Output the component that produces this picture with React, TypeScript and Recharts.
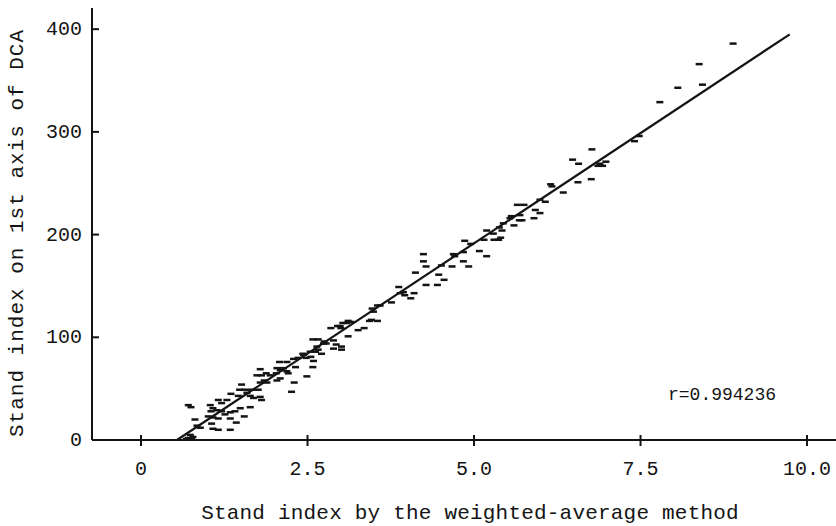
import { ScatterChart, Scatter, XAxis, YAxis, ReferenceLine, Customized } from 'recharts';

// stand index by the weighted-average method (x) vs. stand score on DCA axis 1 (y)
const stdIndexWA = [
  8.89, 8.38, 8.43, 8.06, 7.79, 7.48, 7.41, 6.77,
  6.48, 6.57, 6.89, 6.93, 6.86, 6.98, 6.76, 6.56, 6.15, 6.17, 6.34, 6.07,
  5.99, 5.65, 5.75, 5.92, 5.99, 5.69, 5.56, 5.54, 5.72, 5.68, 5.9, 5.6,
  5.44, 5.38, 5.19, 5.42, 5.29, 5.4, 5.37, 5.3, 5.15, 4.86, 4.95, 5.08,
  5.19, 4.69, 4.84, 4.71,
  4.24, 4.24, 4.84, 4.28, 4.51, 4.67, 4.92, 4.12, 4.47, 4.55, 4.28, 4.45,
  3.87, 3.94, 4.1, 3.96, 3.89, 4.05, 3.76, 3.59, 3.55, 3.47, 3.49, 3.46,
  3.55, 3.43, 3.11, 3.15, 3.09, 3.03, 2.99, 2.95, 2.85, 3.0, 3.26, 3.35,
  3.11, 2.58, 2.66, 2.75, 2.89, 2.78, 2.74, 2.93, 3.01, 2.89, 2.64, 2.66,
  2.62, 2.71, 2.54, 2.44, 2.55, 2.48, 3.01, 2.36, 2.29,
  2.43, 2.59, 2.58, 2.08, 2.19, 2.32, 2.04, 2.09, 2.14, 2.19, 2.21, 1.79,
  1.88, 1.81, 1.74, 1.94, 2.03, 2.09, 2.04, 2.49, 2.3, 1.85, 1.89, 1.79,
  2.26, 1.51, 1.48, 1.56, 1.66, 1.76, 1.35, 1.46, 1.59, 1.64, 1.69, 1.79,
  1.81, 1.29, 1.21, 1.16, 1.04, 1.08, 1.14, 1.05, 1.21, 1.26, 1.34, 1.41,
  1.49, 1.64, 1.01, 1.08, 1.16, 1.34, 1.43, 1.55, 0.71, 0.75, 0.81, 0.84,
  0.89, 1.08, 1.16, 1.34, 1.06, 0.74, 0.78, 0.71, 0.76, 0.68,
];
const stdIndexDCA = [
  386, 366, 346, 343, 329, 296, 291, 283,
  273, 269, 269, 267, 267, 271, 254, 251, 249, 247, 241, 232,
  234, 229, 229, 224, 221, 219, 218, 216, 214, 214, 216, 209,
  211, 207, 204, 204, 201, 197, 195, 195, 195, 194, 191, 184,
  179, 181, 183, 179,
  181, 174, 174, 169, 170, 169, 169, 163, 161, 156, 151, 151,
  149, 144, 143, 141, 143, 138, 134, 131, 131, 128, 125, 117,
  116, 116, 116, 115, 114, 114, 111, 111, 109, 109, 107, 109,
  101, 98, 98, 96, 97, 94, 94, 93, 91, 89, 91, 88,
  86, 84, 86, 83, 81, 80, 88, 80, 79,
  84, 77, 71, 76, 76, 71, 70, 68, 70, 67, 65, 69,
  65, 63, 63, 63, 65, 60, 58, 62, 56, 58, 56, 56,
  47, 54, 49, 49, 49, 49, 45, 43, 46, 43, 41, 42,
  39, 39, 36, 39, 34, 31, 29, 28, 28, 25, 27, 28,
  31, 32, 23, 22, 21, 21, 17, 23, 34, 32, 20, 14,
  12, 11, 10, 10, 16, 5, 3, 2, 1, 1,
];

const xTicks = [0, 2.5, 5, 7.5, 10];
const xTickLabels = ['0', '2.5', '5.0', '7.5', '10.0'];
const yTicks = [0, 100, 200, 300, 400];

// fitted regression line end points
const fitStart = { x: 0.54, y: 0 };
const fitEnd = { x: 9.74, y: 395 };
const rLabel = 'r=0.994236';

const xTitle = 'Stand index by the weighted-average method';
const yTitle = 'Stand index on 1st axis of DCA';

const points = stdIndexWA.map((x, i) => ({ x, y: stdIndexDCA[i] }));

const INK = '#141414';
const FONT = '"Liberation Mono", "DejaVu Sans Mono", monospace';

const Dash = ({ cx, cy }: any) => (
  <rect x={cx - 3.5} y={cy - 1.2} width={7} height={2.5} fill={INK} />
);

const XTick = ({ x, y, payload }: any) => (
  <g>
    <line x1={x} x2={x} y1={y - 5} y2={y + 6} stroke={INK} strokeWidth={2} />
    <text x={x} y={y + 35} textAnchor="middle" fontFamily={FONT} fontSize={20} fill={INK}>
      {xTickLabels[xTicks.indexOf(payload.value)]}
    </text>
  </g>
);

const YTick = ({ x, y, payload }: any) => (
  <g>
    <line x1={x} x2={x + 7} y1={y} y2={y} stroke={INK} strokeWidth={2} />
    <text x={x - 10} y={y + 6} textAnchor="end" fontFamily={FONT} fontSize={20} fill={INK}>
      {payload.value}
    </text>
  </g>
);

const XTitle = ({ viewBox }: any) => (
  <text
    x={viewBox.x + viewBox.width / 2 + 6}
    y={viewBox.y + 79}
    textAnchor="middle"
    fontFamily={FONT}
    fontSize={21}
    letterSpacing={0.2}
    fill={INK}
  >
    {xTitle}
  </text>
);

const YTitle = ({ viewBox }: any) => {
  const cx = 23;
  const cy = viewBox.y + viewBox.height / 2 + 9;
  return (
    <text
      x={cx}
      y={cy}
      transform={`rotate(-90 ${cx} ${cy})`}
      textAnchor="middle"
      fontFamily={FONT}
      fontSize={21}
      letterSpacing={1}
      fill={INK}
    >
      {yTitle}
    </text>
  );
};

const RText = () => (
  <text x={668} y={400} fontFamily={FONT} fontSize={18} fill={INK}>
    {rLabel}
  </text>
);

export default function App() {
  return (
    <div style={{ position: 'absolute', left: 0, top: 0, width: 836, height: 526, background: '#fff' }}>
      <ScatterChart width={836} height={526} margin={{ top: 8, right: 0, bottom: 0, left: 0 }}>
        <XAxis
          type="number"
          dataKey="x"
          domain={[-0.736, 10.435]}
          ticks={xTicks}
          allowDataOverflow
          height={86}
          tickSize={0}
          tickMargin={0}
          tickLine={false}
          tick={<XTick />}
          axisLine={{ stroke: INK, strokeWidth: 2 }}
          label={{ content: <XTitle /> }}
        />
        <YAxis
          type="number"
          dataKey="y"
          domain={[0, 420.6]}
          ticks={yTicks}
          allowDataOverflow
          width={92}
          tickSize={0}
          tickMargin={0}
          tickLine={false}
          tick={<YTick />}
          axisLine={{ stroke: INK, strokeWidth: 2 }}
          label={{ content: <YTitle /> }}
        />
        <Scatter data={points} shape={<Dash />} isAnimationActive={false} />
        <ReferenceLine
          segment={[fitStart, fitEnd]}
          stroke={INK}
          strokeWidth={2.2}
          ifOverflow="visible"
        />
        <Customized component={<RText />} />
      </ScatterChart>
    </div>
  );
}
